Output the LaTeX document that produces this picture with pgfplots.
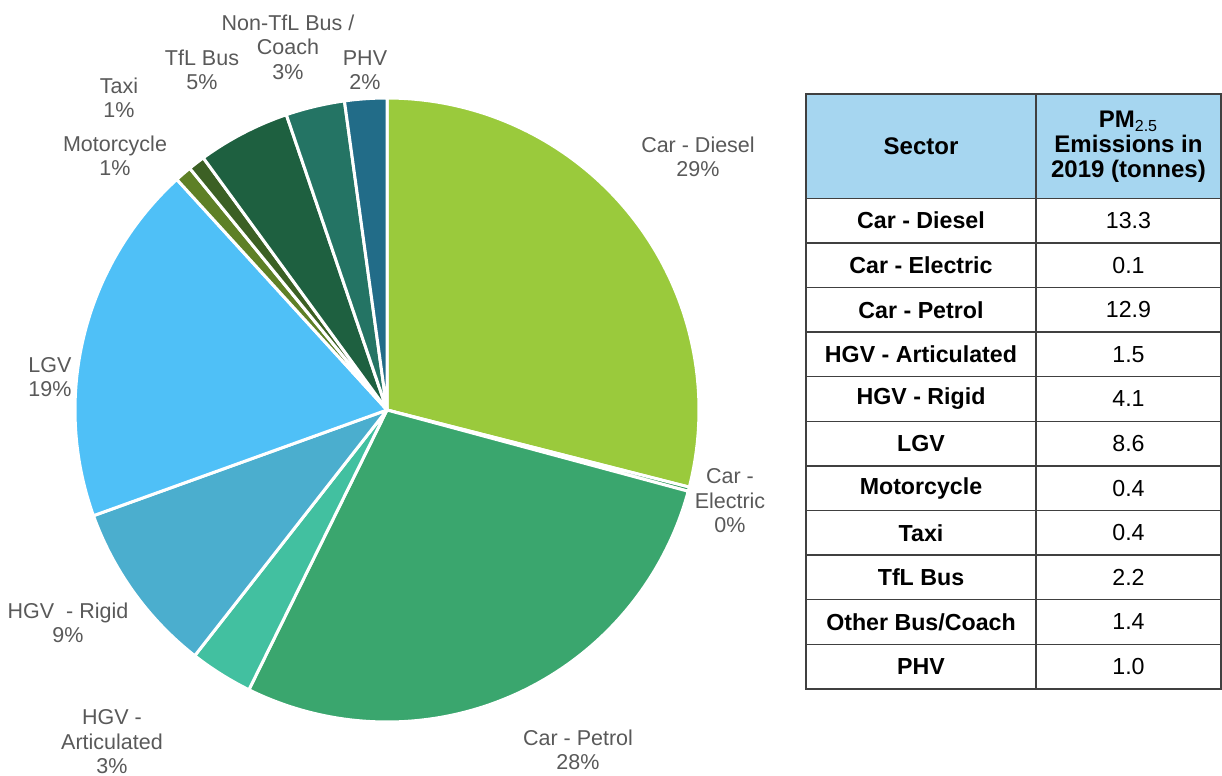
\documentclass[border=0pt]{standalone}
\usepackage{pgfplots}
\pgfplotsset{compat=1.18}
\usepackage{fontspec}
\setmainfont{Liberation Sans}
\definecolor{cDiesel}{HTML}{9ACA3C}
\definecolor{cElec}{HTML}{2F9A5A}
\definecolor{cPetrol}{HTML}{3AA66E}
\definecolor{cHGVA}{HTML}{42C0A0}
\definecolor{cHGVR}{HTML}{4BAECE}
\definecolor{cLGV}{HTML}{4FC0F7}
\definecolor{cMoto}{HTML}{5E8026}
\definecolor{cTaxi}{HTML}{3C6024}
\definecolor{cTfL}{HTML}{1E6040}
\definecolor{cNonTfL}{HTML}{247464}
\definecolor{cPHV}{HTML}{226C88}
\definecolor{lbl}{HTML}{595959}
\definecolor{hdr}{HTML}{A6D6F0}
\definecolor{grid}{HTML}{404040}
% values (tonnes), total 45.9; cumulative sums used for slice boundaries
\newcommand\total{45.9}
\newcommand\slice[3]{%
  \pgfmathsetmacro\angA{90-#2/\total*360}%
  \pgfmathsetmacro\angB{90-#1/\total*360}%
  \addplot[draw=white, line width=1.5pt, line join=round, fill=#3, domain=\angA:\angB, samples=90, variable=\t]
    ({312*cos(\t)},{312*sin(\t)}) -- (axis cs:0,0) -- cycle;
}
\begin{document}
\begin{tikzpicture}[x=0.5pt,y=-0.5pt]
\path[use as bounding box] (0,0) rectangle (1222,776);
\begin{axis}[at={(193.5pt,-205pt)}, anchor=origin, x=0.5pt, y=0.5pt,
  xmin=-330, xmax=330, ymin=-330, ymax=330, hide axis, clip=false]
% cumulative: Diesel 13.3, Electric 0.1, Petrol 12.9, HGV-A 1.5, HGV-R 4.1, LGV 8.6,
% Motorcycle 0.4, Taxi 0.4, TfL Bus 2.2, Non-TfL 1.4, PHV 1.0
\slice{0}{13.3}{cDiesel}
\slice{13.3}{13.4}{cElec}
\slice{13.4}{26.3}{cPetrol}
\slice{26.3}{27.8}{cHGVA}
\slice{27.8}{31.9}{cHGVR}
\slice{31.9}{40.5}{cLGV}
\slice{40.5}{40.9}{cMoto}
\slice{40.9}{41.3}{cTaxi}
\slice{41.3}{43.5}{cTfL}
\slice{43.5}{44.9}{cNonTfL}
\slice{44.9}{45.9}{cPHV}
\end{axis}
% pie labels
\begin{scope}[every node/.style={text=lbl, align=center, font=\fontsize{10.75}{12.25}\selectfont, inner sep=0pt}]
\node at (698,157) {Car - Diesel\\29\%};
\node at (730,501) {Car -\\Electric\\0\%};
\node at (578,750) {Car - Petrol\\28\%};
\node at (112,742) {HGV -\\Articulated\\3\%};
\node at (68,623) {HGV \ - Rigid\\9\%};
\node at (50,377) {LGV\\19\%};
\node at (115,156) {Motorcycle\\1\%};
\node at (119,98) {Taxi\\1\%};
\node at (202,70) {TfL Bus\\5\%};
\node at (288,47) {Non-TfL Bus /\\Coach\\3\%};
\node at (365,70) {PHV\\2\%};
\end{scope}
% table
\fill[hdr] (806,94) rectangle (1221,198.3);
\begin{scope}[grid, line width=0.75pt]
\draw (806,94) rectangle (1221,688.9);
\draw (1036,94) -- (1036,688.9);
\foreach \k in {0,...,10} {\draw (806,{198.3+44.6*\k}) -- (1221,{198.3+44.6*\k});}
\end{scope}
\begin{scope}[every node/.style={text=black, align=center, inner sep=0pt, font=\fontsize{11.6}{12.5}\selectfont}]
\node[font=\bfseries\fontsize{12}{12.5}\selectfont] at (921,146) {Sector};
\node[font=\bfseries\fontsize{12}{12.5}\selectfont] at (1128.5,147) {PM\textsubscript{\mdseries 2.5}\\Emissions in\\2019 (tonnes)};
\foreach \n/\v [count=\i from 0] in {Car - Diesel/13.3, Car - Electric/0.1, Car - Petrol/12.9, HGV - Articulated/1.5, HGV - Rigid/4.1, LGV/8.6, Motorcycle/0.4, Taxi/0.4, TfL Bus/2.2, Other Bus\slash Coach/1.4, PHV/1.0} {
  \node[font=\bfseries\fontsize{11.6}{12.5}\selectfont] at (921,{198.3+44.6*(\i+0.5)}) {\n};
  \node at (1128.5,{198.3+44.6*(\i+0.5)}) {\v};
}
\end{scope}
\end{tikzpicture}
\end{document}
